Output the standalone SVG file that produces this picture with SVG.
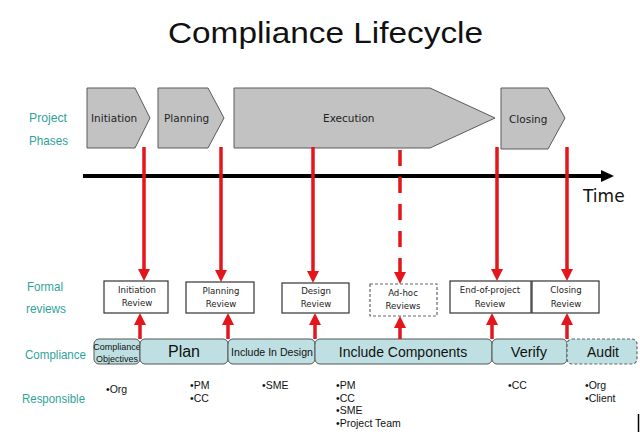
<svg xmlns="http://www.w3.org/2000/svg" width="640" height="432" viewBox="0 0 640 432">
<style>
.title{font-family:"Liberation Sans",Arial,sans-serif;font-size:29px;fill:#111}
.lbl{font-family:"Liberation Sans",Arial,sans-serif;font-size:13px;fill:#2fa39b}
.ph{fill:#c2c2c2;stroke:#5a5a5a;stroke-width:1}
.pht{font-family:"DejaVu Sans",Verdana,sans-serif;font-size:10.5px;fill:#222}
.rv{fill:#fff;stroke:#333;stroke-width:1.2}
.rvd{fill:#fff;stroke:#666;stroke-width:1.2;stroke-dasharray:3 2}
.rvt{font-family:"DejaVu Sans",Verdana,sans-serif;font-size:8.6px;fill:#222;text-anchor:middle}
.seg{fill:#bfe0e3;stroke:#555;stroke-width:1}
.segd{fill:#bfe0e3;stroke:#666;stroke-width:1.2;stroke-dasharray:3 2}
.st{font-family:"Liberation Sans",Arial,sans-serif;fill:#111;text-anchor:middle}
.rs{font-family:"Liberation Sans",Arial,sans-serif;font-size:10.5px;fill:#111}
.red{stroke:#e3161c;stroke-width:3.5;fill:none}
</style>
<defs>
<marker id="ah" markerUnits="userSpaceOnUse" markerWidth="14" markerHeight="14" refX="4" refY="6" orient="auto">
<path d="M0,0 L12,6 L0,12 z" fill="#e3161c"/>
</marker>
</defs>
<rect width="640" height="432" fill="#fff"/>
<text class="title" x="168" y="43" textLength="315" lengthAdjust="spacingAndGlyphs">Compliance Lifecycle</text>
<g id="row-labels">
<text class="lbl" x="29" y="122" textLength="38" lengthAdjust="spacingAndGlyphs">Project</text>
<text class="lbl" x="29" y="145" textLength="39" lengthAdjust="spacingAndGlyphs">Phases</text>
<text class="lbl" x="27" y="291" textLength="36" lengthAdjust="spacingAndGlyphs">Formal</text>
<text class="lbl" x="26" y="313" textLength="40" lengthAdjust="spacingAndGlyphs">reviews</text>
<text class="lbl" x="25" y="359" textLength="61" lengthAdjust="spacingAndGlyphs">Compliance</text>
<text class="lbl" x="22" y="403" textLength="63" lengthAdjust="spacingAndGlyphs">Responsible</text>
</g>
<g id="phase-initiation"><polygon class="ph" points="87,88 135,88 150,118 135,148 87,148"/><text class="pht" x="91" y="122">Initiation</text></g>
<g id="phase-planning"><polygon class="ph" points="158,88 208,88 224,118 208,148 158,148"/><text class="pht" x="164" y="122">Planning</text></g>
<g id="phase-execution"><polygon class="ph" points="234,88 430,88 495,118 430,148 234,148"/><text class="pht" x="323" y="122">Execution</text></g>
<g id="phase-closing"><polygon class="ph" points="501,88 548,88 565,118 548,149 501,149"/><text class="pht" x="509" y="123">Closing</text></g>
<g id="timeline">
<line x1="83" y1="176" x2="603" y2="176" stroke="#000" stroke-width="4"/>
<polygon points="601,170 614,176 601,182" fill="#000"/>
<text x="583" y="202" font-family="DejaVu Sans, Verdana, sans-serif" font-size="17" fill="#111">Time</text>
</g>
<g id="review-initiation"><rect class="rv" x="104" y="281" width="64" height="32"/><text class="rvt" x="137" y="293">Initiation</text><text class="rvt" x="137" y="306">Review</text></g>
<g id="review-planning"><rect class="rv" x="186" y="282" width="68" height="31"/><text class="rvt" x="221" y="294">Planning</text><text class="rvt" x="221" y="307">Review</text></g>
<g id="review-design"><rect class="rv" x="282" y="283" width="67" height="30"/><text class="rvt" x="316" y="294">Design</text><text class="rvt" x="316" y="307">Review</text></g>
<g id="review-adhoc"><rect class="rvd" x="370" y="284" width="67" height="32"/><text class="rvt" x="403" y="296">Ad-hoc</text><text class="rvt" x="403" y="309">Reviews</text></g>
<g id="review-end"><rect class="rv" x="450" y="281" width="81" height="32"/><text class="rvt" x="490" y="293">End-of-project</text><text class="rvt" x="490" y="307">Review</text></g>
<g id="review-closing"><rect class="rv" x="532" y="281" width="67" height="32"/><text class="rvt" x="566" y="293">Closing</text><text class="rvt" x="566" y="307">Review</text></g>
<g id="compliance-objectives"><rect class="seg" x="94" y="339" width="46" height="25" rx="5"/><text class="st" x="117" y="350" font-size="9">Compliance</text><text class="st" x="117" y="362" font-size="9">Objectives</text></g>
<g id="compliance-plan"><rect class="seg" x="140" y="339" width="88" height="25" rx="5"/><text class="st" x="184" y="357" font-size="16">Plan</text></g>
<g id="compliance-design"><rect class="seg" x="228" y="339" width="87" height="25" rx="5"/><text class="st" x="272" y="355.5" font-size="10.6">Include In Design</text></g>
<g id="compliance-components"><rect class="seg" x="315" y="339" width="177" height="25" rx="5"/><text class="st" x="403" y="357" font-size="14">Include Components</text></g>
<g id="compliance-verify"><rect class="seg" x="492" y="339" width="75" height="25" rx="5"/><text class="st" x="529" y="357" font-size="14.5">Verify</text></g>
<g id="compliance-audit"><rect class="segd" x="567" y="339" width="70" height="25" rx="5"/><text class="st" x="603" y="357" font-size="14">Audit</text></g>
<g id="connectors">
<line class="red" x1="144" y1="147" x2="144" y2="273" marker-end="url(#ah)"/>
<line class="red" x1="221" y1="147" x2="221" y2="274" marker-end="url(#ah)"/>
<line class="red" x1="313" y1="147" x2="313" y2="275" marker-end="url(#ah)"/>
<line class="red" x1="400" y1="150" x2="400" y2="276" stroke-dasharray="16 11" marker-end="url(#ah)"/>
<line class="red" x1="497" y1="147" x2="497" y2="273" marker-end="url(#ah)"/>
<line class="red" x1="567" y1="147" x2="567" y2="273" marker-end="url(#ah)"/>
<line class="red" x1="140" y1="339" x2="140" y2="321" marker-end="url(#ah)"/>
<line class="red" x1="228" y1="339" x2="228" y2="321" marker-end="url(#ah)"/>
<line class="red" x1="315" y1="339" x2="315" y2="321" marker-end="url(#ah)"/>
<line class="red" x1="400" y1="339" x2="400" y2="324" marker-end="url(#ah)"/>
<line class="red" x1="492" y1="339" x2="492" y2="321" marker-end="url(#ah)"/>
<line class="red" x1="567" y1="339" x2="567" y2="321" marker-end="url(#ah)"/>
</g>
<g id="responsible">
<text class="rs" x="106" y="393">•Org</text>
<text class="rs" x="190" y="389">•PM</text>
<text class="rs" x="190" y="401.5">•CC</text>
<text class="rs" x="262" y="389">•SME</text>
<text class="rs" x="336" y="389">•PM</text>
<text class="rs" x="336" y="401.5">•CC</text>
<text class="rs" x="336" y="414">•SME</text>
<text class="rs" x="336" y="426.5">•Project Team</text>
<text class="rs" x="508" y="389">•CC</text>
<text class="rs" x="585" y="389">•Org</text>
<text class="rs" x="585" y="401.5">•Client</text>
</g>
<line x1="638.5" y1="414" x2="638.5" y2="432" stroke="#000" stroke-width="1.5"/>
</svg>
